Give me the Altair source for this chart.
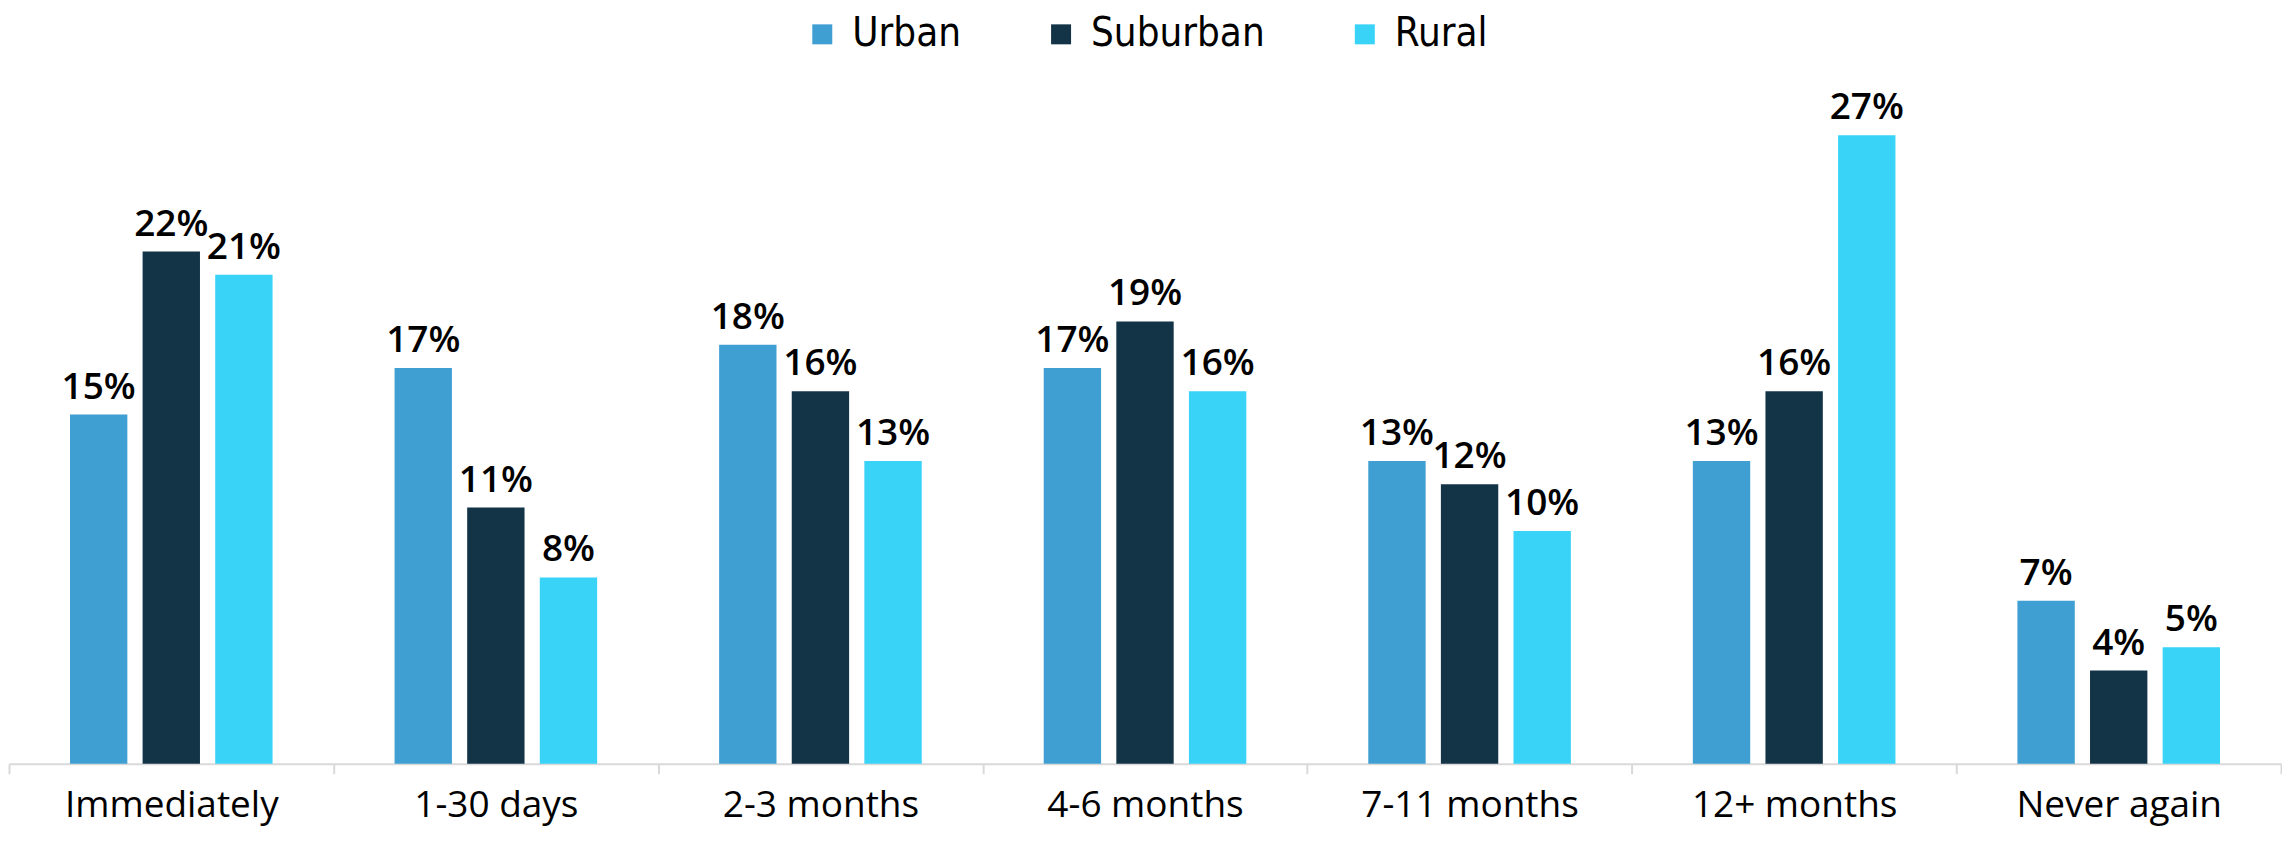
import altair as alt
import pandas as pd

categories = ["Immediately", "1-30 days", "2-3 months", "4-6 months", "7-11 months", "12+ months", "Never again"]
groups = ["Urban", "Suburban", "Rural"]
urban = [15, 17, 18, 17, 13, 13, 7]
suburban = [22, 11, 16, 19, 12, 16, 4]
rural = [21, 8, 13, 16, 10, 27, 5]
colors = ["#3F9FD2", "#133347", "#38D3F7"]

rows = []
for i, c in enumerate(categories):
    for g, vals in zip(groups, [urban, suburban, rural]):
        rows.append({"category": c, "group": g, "value": vals[i], "label": f"{vals[i]}%"})
df = pd.DataFrame(rows)

x = alt.X("category:N", sort=categories, title=None,
          scale=alt.Scale(paddingInner=0, paddingOuter=0),
          axis=alt.Axis(labelAngle=0, labelFontSize=37, labelFont="Open Sans", labelFontWeight=500,
                        labelColor="#000000", labelPadding=14, labelLimit=600, tickBand="extent",
                        domainColor="#D9D9D9", domainWidth=2, tickColor="#D9D9D9",
                        tickWidth=2, tickSize=10))
xo = alt.XOffset("group:N", sort=groups, scale=alt.Scale(paddingInner=0.21, paddingOuter=0.84))
y = alt.Y("value:Q", scale=alt.Scale(domain=[0, 30]), axis=None)

bars = alt.Chart(df).mark_bar().encode(
    x=x, xOffset=xo, y=y,
    color=alt.Color("group:N", sort=groups, scale=alt.Scale(domain=groups, range=colors),
                    legend=alt.Legend(title=None, orient="none", direction="horizontal",
                                      legendX=794, legendY=-51, symbolType="square",
                                      symbolSize=400, symbolStrokeWidth=0,
                                      labelFont="Liberation Sans Narrow, DejaVu Sans Condensed, Roboto, sans-serif",
                                      labelFontSize=40, labelLimit=400,
                                      labelColor="#000000", columnPadding=80, labelOffset=10)),
)

text = alt.Chart(df).mark_text(baseline="alphabetic", dy=-16, fontSize=37,
                                font="Open Sans", fontWeight=600, color="#000000").encode(
    x=x, xOffset=xo, y=y, text="label:N"
)

chart = (bars + text).properties(
    width=2274, height=699,
    padding={"left": 0, "top": 6, "right": 0, "bottom": 8},
).configure_view(stroke=None)
chart.save("out.html", embed_options={"renderer": "svg", "actions": False})
